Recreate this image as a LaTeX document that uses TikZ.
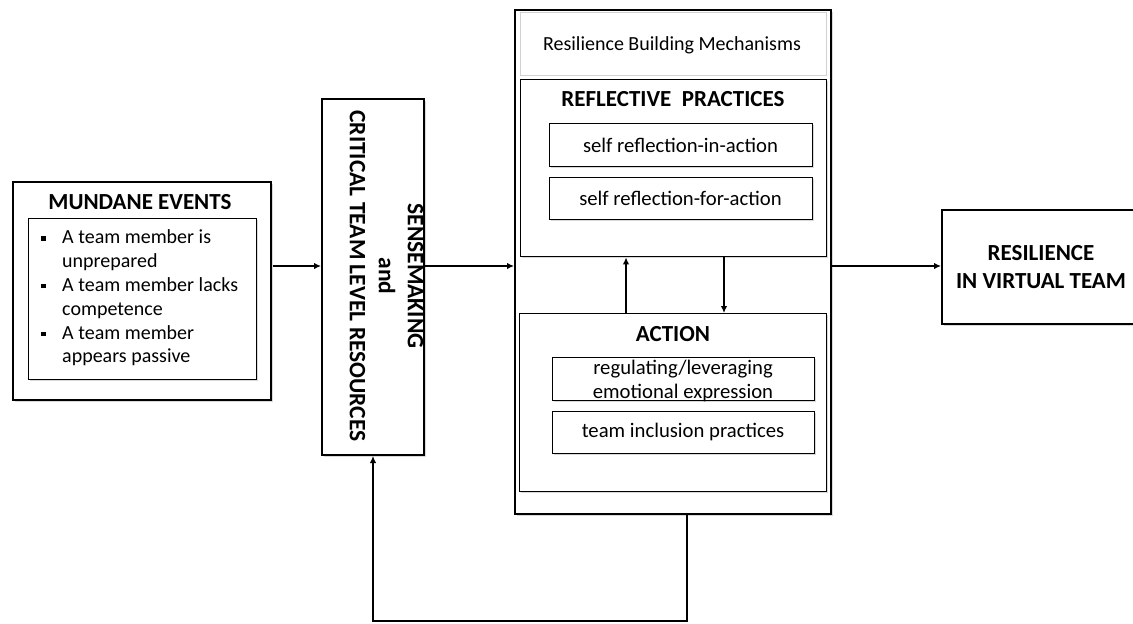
\documentclass[tikz,border=0pt]{standalone}
\usepackage{fontspec}
\setmainfont{Carlito}
\usetikzlibrary{arrows.meta,shadows}
\begin{document}
\begin{tikzpicture}[x=1pt,y=-1pt,
  shad/.style={drop shadow={shadow xshift=1.5pt,shadow yshift=-1.5pt,opacity=0.3,fill=gray}},
  bigbox/.style={draw,line width=2pt,fill=white,shad,anchor=north west,inner sep=0pt},
  midbox/.style={draw,line width=1.4pt,fill=white,shad,anchor=north west,inner sep=0pt},
  smallbox/.style={draw,line width=1.2pt,fill=white,shad,anchor=north west,inner sep=0pt},
  bodytxt/.style={font=\fontsize{20.7}{24}\selectfont,inner sep=0pt},
  listtxt/.style={font=\fontsize{20}{23.8}\selectfont,inner sep=0pt},
  boldtxt/.style={font=\fontsize{23}{27}\selectfont\bfseries,inner sep=0pt},
  arr/.style={line width=2pt,-{Latex[length=7pt,width=6.5pt]}},
  thinarr/.style={line width=1.5pt,-{Latex[length=7pt,width=6.5pt]}}
]
\useasboundingbox (0,0) rectangle (1133,624);
\clip (0,0) rectangle (1133,624);

% Mundane events
\node[bigbox,minimum width=258pt,minimum height=218pt] (mund) at (12,181) {};
\node[boldtxt] (mundt) at (140,202) {MUNDANE EVENTS};
\node[smallbox,minimum width=228pt,minimum height=161pt] (mundin) at (28,218) {};
\node[listtxt,anchor=north west] (mundlist) at (41,227) {%
\begin{tabular}{@{}l@{\hspace{16.5pt}}l@{}}
\rule[3pt]{4.5pt}{4.5pt} & A team member is\\
 & unprepared\\
\rule[3pt]{4.5pt}{4.5pt} & A team member lacks\\
 & competence\\
\rule[3pt]{4.5pt}{4.5pt} & A team member\\
 & appears passive
\end{tabular}};

% Sensemaking vertical box
\node[bigbox,minimum width=102pt,minimum height=356pt] (vbox) at (321,98) {};
\node[rotate=-90,align=center,font=\fontsize{23.5}{29}\selectfont\bfseries,inner sep=0pt] (vtxt) at (386.5,276)
  {SENSEMAKING\\and\\CRITICAL TEAM LEVEL RESOURCES};

% Resilience building mechanisms
\node[bigbox,minimum width=316pt,minimum height=504pt] (big) at (514,9) {};
\node[draw=gray!35,line width=1pt,fill=white,anchor=north west,inner sep=0pt,
  minimum width=306pt,minimum height=63pt] (head) at (520,12) {};
\node[font=\fontsize{20}{23}\selectfont,inner sep=0pt] (headt) at (672,45) {Resilience Building Mechanisms};

\node[midbox,minimum width=306pt,minimum height=177pt] (refl) at (520,79) {};
\node[boldtxt] (reflt) at (673,99) {REFLECTIVE\ \ PRACTICES};
\node[smallbox,minimum width=263pt,minimum height=43pt] (s1) at (549,123) {};
\node[bodytxt] (s1t) at (680.5,145) {self reflection-in-action};
\node[smallbox,minimum width=263pt,minimum height=42pt] (s2) at (549,177) {};
\node[bodytxt] (s2t) at (680.5,198) {self reflection-for-action};

\node[midbox,minimum width=307pt,minimum height=178pt] (act) at (519,313) {};
\node[boldtxt] (actt) at (673,334) {ACTION};
\node[smallbox,minimum width=262pt,minimum height=43pt] (s3) at (552,357) {};
\node[bodytxt,align=center,font=\fontsize{20.7}{24}\selectfont] (s3t) at (683,381) {regulating/leveraging\\emotional expression};
\node[smallbox,minimum width=262pt,minimum height=42pt] (s4) at (552,411) {};
\node[bodytxt] (s4t) at (683,432) {team inclusion practices};

% Resilience in virtual team
\node[bigbox,minimum width=220pt,minimum height=114pt] (res) at (941,209) {};
\node[align=center,font=\fontsize{23}{28}\selectfont\bfseries,inner sep=0pt] (rest) at (1041,267)
  {RESILIENCE\\IN VIRTUAL TEAM};

% Connectors
\coordinate (a1) at (273,266);
\coordinate (xu) at (626,0);
\coordinate (xd) at (724,0);
\coordinate (fb) at (687,621);
\draw[arr] (a1) -- (a1 -| vbox.west);
\draw[arr] (vbox.east |- a1) -- (big.west |- a1);
\draw[arr] (big.east |- a1) -- (res.west |- a1);
\draw[arr] (act.north -| xu) -- (refl.south -| xu);
\draw[arr] (refl.south -| xd) -- (act.north -| xd);
\draw[thinarr] (big.south -| fb) -- (fb) -| (vbox.south);
\end{tikzpicture}
\end{document}
